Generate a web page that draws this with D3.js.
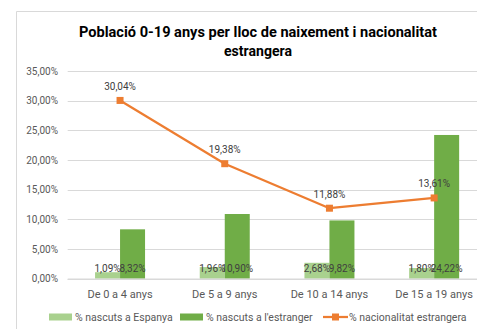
<!DOCTYPE html>
<html>
<head>
<meta charset="utf-8">
<script src="https://cdn.jsdelivr.net/npm/d3@7/dist/d3.min.js"></script>
<style>
  html, body { margin: 0; padding: 0; background: #fff; }
  svg { display: block; font-family: Roboto, "Open Sans", sans-serif; }
</style>
</head>
<body>
<svg id="chart" width="477" height="329"></svg>
<script>
// Age groups and shares (%)
const categories = ["De 0 a 4 anys", "De 5 a 9 anys", "De 10 a 14 anys", "De 15 a 19 anys"];
const bornSpain = [1.09, 1.96, 2.68, 1.80];
const bornAbroad = [8.32, 10.90, 9.82, 24.22];
const foreignNationality = [30.04, 19.38, 11.88, 13.61];
const yTicks = [0, 5, 10, 15, 20, 25, 30, 35];
const seriesNames = ["% nascuts a Espanya", "% nascuts a l'estranger", "% nacionalitat estrangera"];

const colors = { spain: "#A9D18E", abroad: "#70AD47", line: "#ED7D31", grid: "#D9D9D9", text: "#595959" };
const fmt = v => v.toFixed(2).replace(".", ",") + "%";

const svg = d3.select("#chart");

// Outer chart frame
svg.append("path")
  .attr("d", "M16.5,340 L16.5,11.5 L490,11.5")
  .attr("fill", "none").attr("stroke", "#D9D9D9").attr("stroke-width", 1);

// Title
const title = svg.append("text")
  .attr("text-anchor", "middle")
  .attr("font-weight", "bold").attr("font-size", 14).attr("fill", "#000");
title.append("tspan").attr("x", 258).attr("y", 37)
  .attr("textLength", 358).attr("lengthAdjust", "spacingAndGlyphs")
  .text("Població 0-19 anys per lloc de naixement i nacionalitat");
title.append("tspan").attr("x", 258).attr("y", 56)
  .attr("textLength", 68).attr("lengthAdjust", "spacingAndGlyphs")
  .text("estrangera");

// Scales
const x = d3.scaleBand().domain(categories).range([67.7, 486.5]);
const y = d3.scaleLinear().domain([0, 35]).range([278.7, 71]);
const barW = 25;

// Gridlines
svg.append("g").selectAll("line").data(yTicks).join("line")
  .attr("x1", 67.7).attr("x2", 486.5)
  .attr("y1", d => Math.round(y(d)) + 0.5).attr("y2", d => Math.round(y(d)) + 0.5)
  .attr("stroke", colors.grid).attr("stroke-width", 1);

// Y axis labels
const yAxis = svg.append("g").attr("transform", "translate(58,0)")
  .call(d3.axisLeft(y).tickValues(yTicks).tickSize(0).tickPadding(0)
    .tickFormat(d => d.toFixed(2).replace(".", ",") + "%"));
yAxis.select(".domain").remove();
yAxis.selectAll("text").attr("font-size", 10).attr("fill", colors.text)
  .attr("font-family", "Roboto, sans-serif");

// Bars
const cx = c => x(c) + x.bandwidth() / 2;
const bars = svg.append("g");
bars.selectAll("rect.spain").data(categories).join("rect")
  .attr("x", c => cx(c) - barW).attr("width", barW)
  .attr("y", (c, i) => y(bornSpain[i])).attr("height", (c, i) => y(0) - y(bornSpain[i]))
  .attr("fill", colors.spain);
bars.selectAll("rect.abroad").data(categories).join("rect")
  .attr("x", c => cx(c)).attr("width", barW)
  .attr("y", (c, i) => y(bornAbroad[i])).attr("height", (c, i) => y(0) - y(bornAbroad[i]))
  .attr("fill", colors.abroad);

// Baseline
svg.append("line")
  .attr("x1", 67.7).attr("x2", 486.5)
  .attr("y1", y(0) + 0.5).attr("y2", y(0) + 0.5)
  .attr("stroke", colors.grid).attr("stroke-width", 1.5);

// Bar labels (inside base)
const labelsG = svg.append("g").attr("font-size", 10).attr("fill", "#404040").attr("text-anchor", "middle");
labelsG.selectAll("text.s").data(categories).join("text")
  .attr("x", c => cx(c) - barW / 2).attr("y", 271.5)
  .text((c, i) => fmt(bornSpain[i]));
labelsG.selectAll("text.a").data(categories).join("text")
  .attr("x", c => cx(c) + barW / 2).attr("y", 271.5)
  .text((c, i) => fmt(bornAbroad[i]));

// Category labels
svg.append("g").selectAll("text").data(categories).join("text")
  .attr("x", cx).attr("y", 297.5).attr("text-anchor", "middle")
  .attr("font-size", 11).attr("fill", colors.text)
  .text(d => d);

// Line series
const line = d3.line().x((d, i) => cx(categories[i])).y(d => y(d));
svg.append("path").datum(foreignNationality)
  .attr("d", line).attr("fill", "none")
  .attr("stroke", colors.line).attr("stroke-width", 2.25).attr("stroke-linejoin", "round");
svg.append("g").selectAll("rect").data(foreignNationality).join("rect")
  .attr("x", (d, i) => cx(categories[i]) - 3.5).attr("y", d => y(d) - 3.5)
  .attr("width", 7).attr("height", 7).attr("fill", colors.line);
svg.append("g").selectAll("text").data(foreignNationality).join("text")
  .attr("x", (d, i) => cx(categories[i])).attr("y", d => y(d) - 10.5)
  .attr("text-anchor", "middle").attr("font-size", 10).attr("fill", "#404040")
  .text(d => fmt(d));

// Legend
const legend = svg.append("g").attr("font-size", 10.5).attr("fill", colors.text);
const ly = 317;
legend.append("rect").attr("x", 49).attr("y", ly - 3.5).attr("width", 23).attr("height", 7).attr("fill", colors.spain);
legend.append("text").attr("x", 75).attr("y", ly + 3.8).text(seriesNames[0]);
legend.append("rect").attr("x", 180).attr("y", ly - 3.5).attr("width", 23).attr("height", 7).attr("fill", colors.abroad);
legend.append("text").attr("x", 206).attr("y", ly + 3.8).text(seriesNames[1]);
legend.append("line").attr("x1", 323).attr("x2", 348).attr("y1", ly).attr("y2", ly)
  .attr("stroke", colors.line).attr("stroke-width", 2.25);
legend.append("rect").attr("x", 332).attr("y", ly - 3.5).attr("width", 7).attr("height", 7).attr("fill", colors.line);
legend.append("text").attr("x", 349).attr("y", ly + 3.8).text(seriesNames[2]);
</script>
</body>
</html>
